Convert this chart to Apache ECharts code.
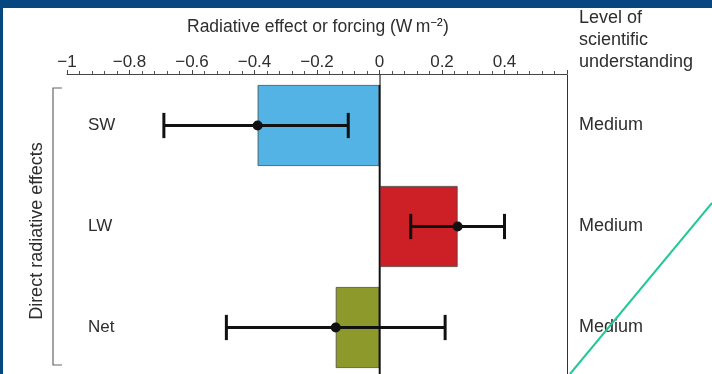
<!DOCTYPE html>
<html>
<head>
<meta charset="utf-8">
<script src="https://cdn.jsdelivr.net/npm/echarts@6/dist/echarts.min.js"></script>
<style>
html,body{margin:0;padding:0;background:#fff;}
#c{width:712px;height:374px;}
</style>
</head>
<body>
<div id="c"></div>
<script>
// ---- data ----
var categories = ['SW', 'LW', 'Net'];
var forcing = [-0.39, 0.25, -0.14];
var lowerBound = [-0.69, 0.10, -0.49];
var upperBound = [-0.10, 0.40, 0.21];
var levels = ['Medium', 'Medium', 'Medium'];
var barColors = ['#52b3e4', '#cd1f26', '#8e992b'];
var tickValues = [-1, -0.8, -0.6, -0.4, -0.2, 0, 0.2, 0.4];

var FONT = '"Liberation Sans", Arial, sans-serif';
var TXT = '#2e2e2e';

var chart = echarts.init(document.getElementById('c'), null, {renderer: 'canvas'});

var barData = forcing.map(function (v, i) {
  return {value: v, itemStyle: {color: barColors[i]}};
});
var errData = categories.map(function (c, i) {
  return [i, lowerBound[i], upperBound[i], forcing[i]];
});

function fmtTick(v) {
  var r = Math.round(v * 10) / 10;
  var found = tickValues.some(function (t) { return Math.abs(t - r) < 1e-9; });
  if (!found) return '';
  var s = String(Math.abs(r));
  return r < 0 ? '\u2212' + s : s;
}

var option = {
  backgroundColor: '#fff',
  animation: false,
  grid: {left: 67, top: 75, width: 500, height: 303, containLabel: false, outerBoundsMode: 'none'},
  xAxis: {
    type: 'value', position: 'top', offset: 1, min: -1, max: 0.6, interval: 0.2,
    axisLine: {show: true, lineStyle: {color: '#444', width: 1}},
    axisTick: {show: true, length: 4, inside: false, lineStyle: {color: '#444', width: 1}},
    minorTick: {show: true, splitNumber: 5, length: 3, lineStyle: {color: '#555', width: 1}},
    splitLine: {show: false},
    axisLabel: {margin: 3, fontSize: 17, color: TXT, fontFamily: FONT, formatter: fmtTick}
  },
  yAxis: [{
    type: 'category', data: categories, inverse: true, position: 'left',
    axisLine: {show: true, lineStyle: {color: '#555', width: 1.5}},
    axisTick: {show: false},
    axisLabel: {inside: true, margin: 21, fontSize: 17, color: TXT, fontFamily: FONT}
  }, {
    type: 'category', data: categories, inverse: true, position: 'right',
    axisLine: {show: true, onZero: false, lineStyle: {color: '#333', width: 1}},
    axisTick: {show: false},
    axisLabel: {margin: 12, fontSize: 18, color: TXT, fontFamily: FONT,
      formatter: function (v, i) { return levels[i]; }}
  }],
  series: [{
    type: 'bar', data: barData, barWidth: 81, yAxisIndex: 0,
    itemStyle: {borderColor: '#4a4a4a', borderWidth: 0.8},
    z: 2
  }, {
    type: 'custom', yAxisIndex: 0, z: 3,
    data: [[0, 0]],
    renderItem: function (params, api) {
      var p = api.coord([api.value(0), api.value(1)]);
      var band = api.size([0, 1])[1];
      var cs = params.coordSys;
      return {type: 'line', shape: {x1: p[0], y1: p[1] - band * 0.4, x2: p[0], y2: cs.y + cs.height},
        style: {stroke: '#111', lineWidth: 1.6}};
    }
  }, {
    type: 'custom', yAxisIndex: 0, z: 4,
    data: errData,
    encode: {y: 0, x: [1, 2, 3]},
    renderItem: function (params, api) {
      var c = api.value(0);
      var lo = api.coord([api.value(1), c]);
      var hi = api.coord([api.value(2), c]);
      var mid = api.coord([api.value(3), c]);
      var cap = api.size([0, 1])[1] * 0.125;
      var st = {stroke: '#111', lineWidth: 3};
      return {type: 'group', children: [
        {type: 'line', shape: {x1: lo[0], y1: lo[1], x2: hi[0], y2: hi[1]}, style: st},
        {type: 'line', shape: {x1: lo[0], y1: lo[1] - cap, x2: lo[0], y2: lo[1] + cap}, style: st},
        {type: 'line', shape: {x1: hi[0], y1: hi[1] - cap, x2: hi[0], y2: hi[1] + cap}, style: st},
        {type: 'circle', shape: {cx: mid[0], cy: mid[1], r: 5}, style: {fill: '#111'}}
      ]};
    }
  }],
  graphic: [
    {type: 'rect', shape: {x: 0, y: 0, width: 712, height: 8}, style: {fill: '#064780'}, z: 100},
    {type: 'rect', shape: {x: 0, y: 0, width: 3, height: 374}, style: {fill: '#064780'}, z: 100},
    {type: 'text', x: 187, y: 27, z: 10, style: {
      text: '{a|Radiative effect or forcing (W\u2009m}{s|\u22122}{a|)}',
      verticalAlign: 'middle', align: 'left',
      rich: {
        a: {fontSize: 17.5, fontFamily: FONT, fill: TXT, color: TXT},
        s: {fontSize: 11, fontFamily: FONT, color: TXT, verticalAlign: 'top', padding: [0, 0, 8, 0]}
      }
    }},
    {type: 'text', x: 579, y: 7, z: 10, style: {
      text: 'Level of\nscientific\nunderstanding', fontSize: 18, lineHeight: 22,
      fontFamily: FONT, fill: TXT, align: 'left', verticalAlign: 'top'
    }},
    {type: 'text', x: 37, y: 231, rotation: Math.PI / 2, z: 10, style: {
      text: 'Direct radiative effects', fontSize: 18, fontFamily: FONT, fill: TXT,
      align: 'center', verticalAlign: 'middle'
    }},
    {type: 'polyline', z: 10, shape: {points: [[62, 88], [53, 88], [53, 365], [62, 365]]},
      style: {stroke: '#666', lineWidth: 1.2, fill: null}},
    {type: 'line', z: 50, shape: {x1: 570, y1: 374, x2: 712, y2: 203},
      style: {stroke: '#1fc996', lineWidth: 2}}
  ]
};
chart.setOption(option);
</script>
</body>
</html>
